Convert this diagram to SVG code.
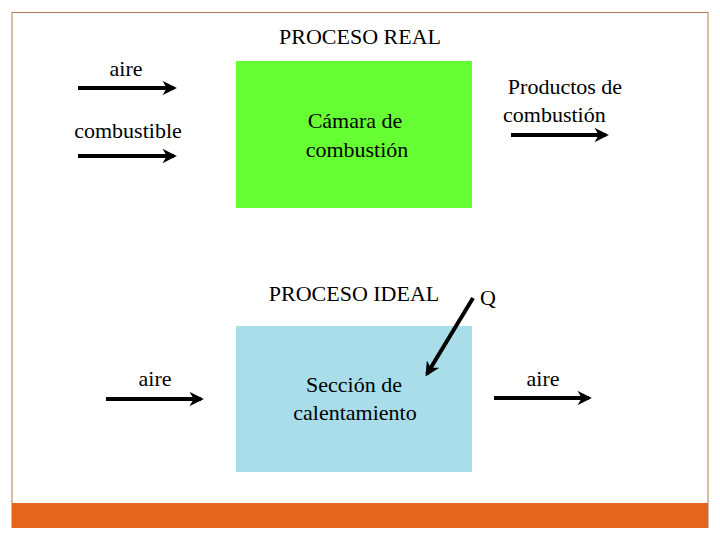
<svg xmlns="http://www.w3.org/2000/svg" width="720" height="540" viewBox="0 0 720 540">
<defs>
<style>
text{font-family:'Liberation Serif','DejaVu Serif',serif;font-size:22px;fill:#000}
.c{text-anchor:middle}
.a{stroke:#000;stroke-width:4;fill:none;marker-end:url(#ah)}
</style>
<marker id="ah" viewBox="0 0 10 10" refX="8" refY="5" markerWidth="3.6" markerHeight="3.6" orient="auto" markerUnits="strokeWidth">
<path d="M0,0 L10,5 L0,10 L3,5 Z" fill="#000"/>
</marker>
</defs>
<rect x="0" y="0" width="720" height="540" fill="#fff"/>
<rect x="12" y="12.5" width="696" height="515" fill="none" stroke="#b07a4a" stroke-width="1"/>
<rect x="12" y="503" width="696" height="25" fill="#e5661f"/>
<text class="c" x="360" y="44" font-family="Liberation Serif">PROCESO REAL</text>
<g id="camara">
<rect x="236" y="61" width="236" height="147" fill="#66ff33"/>
<text class="c" x="355" y="128">Cámara de</text>
<text class="c" x="357" y="157">combustión</text>
</g>
<g id="seccion">
<rect x="236" y="326" width="236" height="146" fill="#a8dde9"/>
<text class="c" x="354" y="392">Sección de</text>
<text class="c" x="355" y="420">calentamiento</text>
</g>
<text class="c" x="354" y="301">PROCESO IDEAL</text>
<g id="labels">
<text class="c" x="126" y="76">aire</text>
<text class="c" x="128" y="138">combustible</text>
<text class="c" x="565" y="94">Productos de</text>
<text x="503" y="122">combustión</text>
<text x="480" y="305">Q</text>
<text class="c" x="155" y="386">aire</text>
<text class="c" x="543" y="386">aire</text>
</g>
<g id="connectors">
<line class="a" x1="78" y1="88" x2="174" y2="88"/>
<line class="a" x1="78" y1="156" x2="174" y2="156"/>
<line class="a" x1="511" y1="135" x2="606" y2="135"/>
<line class="a" x1="106" y1="399" x2="201" y2="399"/>
<line class="a" x1="494" y1="398" x2="589" y2="398"/>
<line class="a" x1="473" y1="298" x2="427" y2="374"/>
</g>
</svg>
